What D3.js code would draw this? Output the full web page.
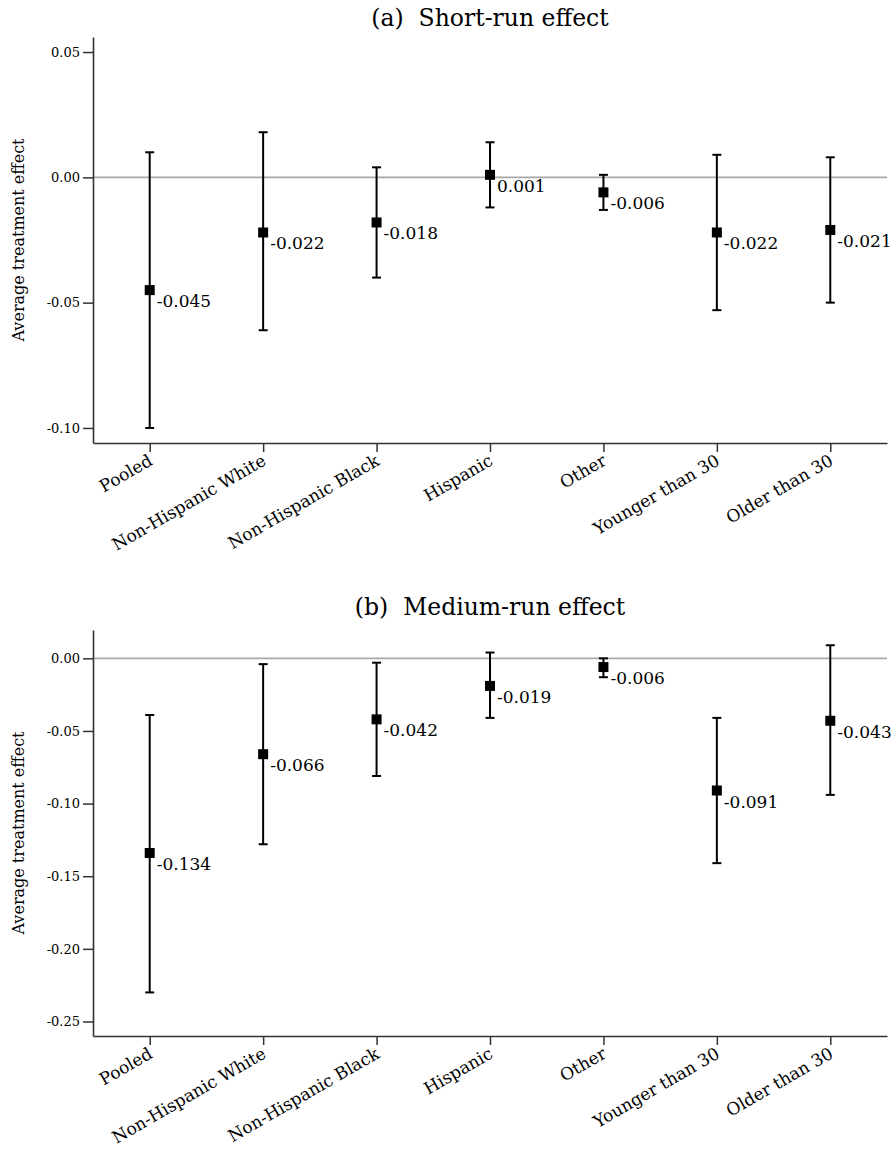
<!DOCTYPE html>
<html>
<head>
<meta charset="utf-8">
<title>ate by group</title>
<script src="https://d3js.org/d3.v7.min.js"></script>
<style>
    body { margin: 0; background: #fff; overflow: hidden; }
    svg text { font-family: Georgia, "DejaVu Serif", serif; fill: #000; }
</style>
</head>
<body>
<svg></svg>
<script>
// groups on the x axis
const groups = ["Pooled", "Non-Hispanic White", "Non-Hispanic Black", "Hispanic", "Other", "Younger than 30", "Older than 30"];

// (a) short-run effect
const shortEst = [-0.045, -0.022, -0.018, 0.001, -0.006, -0.022, -0.021];
const shortLo  = [-0.100, -0.061, -0.040, -0.012, -0.013, -0.053, -0.050];
const shortHi  = [0.010, 0.018, 0.004, 0.014, 0.001, 0.009, 0.008];
const shortTicks = [0.05, 0.00, -0.05, -0.10];

// (b) medium-run effect
const medEst = [-0.134, -0.066, -0.042, -0.019, -0.006, -0.091, -0.043];
const medLo  = [-0.230, -0.128, -0.081, -0.041, -0.013, -0.141, -0.094];
const medHi  = [-0.039, -0.004, -0.003, 0.004, 0.000, -0.041, 0.009];
const medTicks = [0.00, -0.05, -0.10, -0.15, -0.20, -0.25];

const width = 896, height = 1149;
const svg = d3.select("svg").attr("width", width).attr("height", height);

const left = 93, right = 887;
const fmt = v => (Math.abs(v) < 1e-9 ? 0 : v).toFixed(2);

function drawPanel(title, est, lo, hi, ticks, domain, top, bottom, titleY) {
    const g = svg.append("g");
    const x = d3.scalePoint().domain(groups).range([left, right]).padding(0.5);
    const y = d3.scaleLinear().domain(domain).range([bottom, top]);

    const rows = groups.map((name, i) => ({ name, est: est[i], lo: lo[i], hi: hi[i] }));

    // zero reference line
    g.append("line")
        .attr("x1", left).attr("x2", right)
        .attr("y1", y(0)).attr("y2", y(0))
        .attr("stroke", "#a8a8a8").attr("stroke-width", 1.6);

    // y axis
    const yAxis = g.append("g")
        .attr("transform", `translate(${left},0)`)
        .call(d3.axisLeft(y).tickValues(ticks).tickFormat(fmt).tickSize(10).tickPadding(3).tickSizeOuter(0));
    yAxis.selectAll("text").style("font-size", "13px");

    // x axis
    const xAxis = g.append("g")
        .attr("transform", `translate(0,${bottom})`)
        .call(d3.axisBottom(x).tickSize(9).tickSizeOuter(0));
    xAxis.selectAll("text").remove();
    [yAxis, xAxis].forEach(a => {
        a.select(".domain").attr("stroke", "#333").attr("stroke-width", 1.6);
        a.selectAll(".tick line").attr("stroke", "#333").attr("stroke-width", 1.5);
    });

    g.append("g").selectAll("text")
        .data(groups)
        .enter().append("text")
        .attr("transform", d => `translate(${x(d) + 4},${bottom + 21}) rotate(-30)`)
        .attr("text-anchor", "end")
        .style("font-size", "17px")
        .text(d => d);

    // error bars
    const bars = g.append("g").selectAll("g").data(rows).enter().append("g");
    bars.append("line")
        .attr("x1", d => x(d.name)).attr("x2", d => x(d.name))
        .attr("y1", d => y(d.lo)).attr("y2", d => y(d.hi))
        .attr("stroke", "#000").attr("stroke-width", 2);
    bars.selectAll(".cap")
        .data(d => [{ name: d.name, v: d.lo }, { name: d.name, v: d.hi }])
        .enter().append("line")
        .attr("class", "cap")
        .attr("x1", d => x(d.name) - 4.5).attr("x2", d => x(d.name) + 4.5)
        .attr("y1", d => y(d.v)).attr("y2", d => y(d.v))
        .attr("stroke", "#000").attr("stroke-width", 2);
    bars.append("rect")
        .attr("x", d => x(d.name) - 5).attr("y", d => y(d.est) - 5)
        .attr("width", 10).attr("height", 10)
        .attr("fill", "#000");
    bars.append("text")
        .attr("x", d => x(d.name) + 7)
        .attr("y", d => y(d.est) + 17)
        .style("font-size", "17px")
        .text(d => d.est.toFixed(3));

    // y axis title
    g.append("text")
        .attr("transform", `translate(24,${(top + bottom) / 2}) rotate(-90)`)
        .attr("text-anchor", "middle")
        .style("font-size", "16px")
        .text("Average treatment effect");

    // panel title
    g.append("text")
        .attr("x", (left + right) / 2).attr("y", titleY)
        .attr("text-anchor", "middle")
        .style("font-size", "23.5px")
        .attr("xml:space", "preserve")
        .style("white-space", "pre")
        .text(title);
}

drawPanel("(a)  Short-run effect", shortEst, shortLo, shortHi, shortTicks, [-0.106, 0.056], 37, 443, 26);
drawPanel("(b)  Medium-run effect", medEst, medLo, medHi, medTicks, [-0.26, 0.0195], 630, 1036, 615);
</script>
</body>
</html>
